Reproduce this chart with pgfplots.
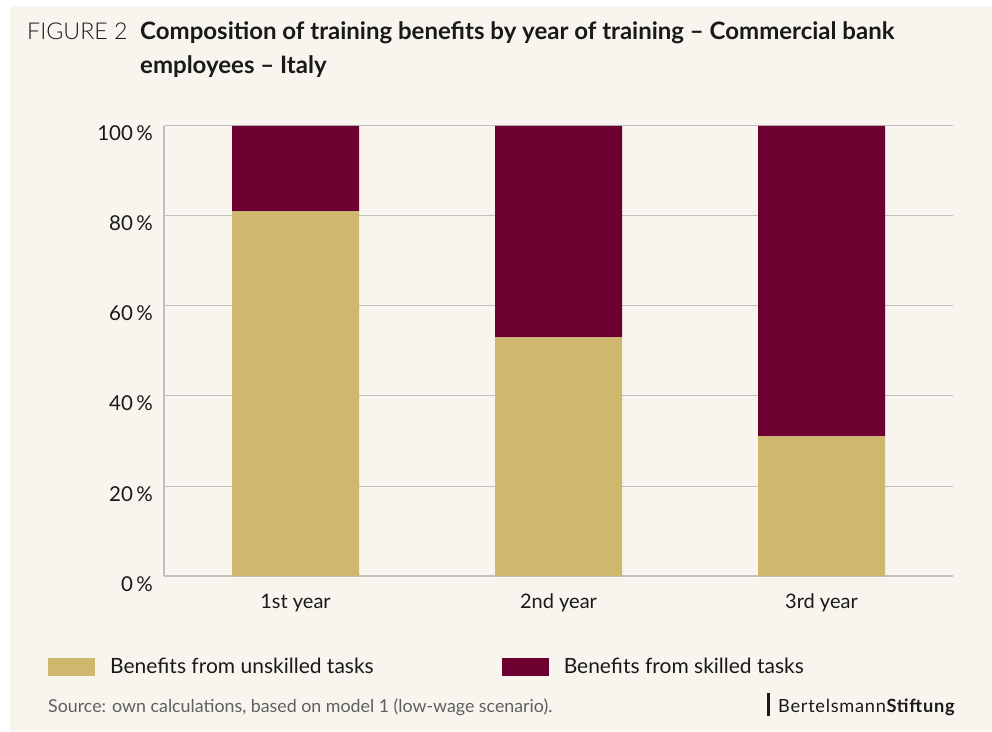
\documentclass[border=0pt]{standalone}
\usepackage{fontspec}
\setmainfont{Lato}
\newfontfamily\latolight{Lato Light}
\usepackage{pgfplots}
\pgfplotsset{compat=1.18}

\definecolor{bgbeige}{RGB}{248,245,238}
\definecolor{tan}{RGB}{205,184,110}
\definecolor{maroon}{RGB}{109,0,48}
\definecolor{gridgray}{RGB}{192,192,192}
\definecolor{txt}{RGB}{25,25,25}
\definecolor{srcgray}{RGB}{95,95,95}

\begin{document}
\begin{tikzpicture}[x=1pt,y=1pt]
% page background: thin white strip top and left, beige panel
\fill[white] (0,0) rectangle (992,731);
\fill[bgbeige] (10,0) rectangle (992,725);

% title
\node[anchor=base west, inner sep=0pt, text=txt, font=\latolight\fontsize{23.2}{26}\selectfont]
    at (27,691) {FIGURE 2};
\node[anchor=base west, inner sep=0pt, text=txt, font=\bfseries\fontsize{24}{28}\selectfont]
    at (140,691) {Composition of training benefits by year of training – Commercial bank};
\node[anchor=base west, inner sep=0pt, text=txt, font=\bfseries\fontsize{24}{28}\selectfont]
    at (140,657) {employees – Italy};

\begin{axis}[
    at={(164pt,155pt)}, anchor=south west,
    scale only axis,
    width=789pt, height=450pt,
    ybar stacked,
    bar width=127pt,
    xmin=0.5, xmax=3.5,
    ymin=0, ymax=100,
    axis x line*=bottom,
    axis y line*=left,
    axis line style={gridgray, line width=1.4pt},
    xtick={1,2,3},
    xticklabels={1st year,2nd year,3rd year},
    x tick style={draw=none},
    extra x ticks={1.5,2.5,3.5},
    extra x tick labels={},
    extra x tick style={major tick length=12pt, tick align=inside,
        tick style={draw=gridgray, line width=1.4pt}},
    ytick={0,20,40,60,80,100},
    yticklabel={\pgfmathprintnumber{\tick}\,\%},
    y tick style={draw=none},
    ymajorgrids=true,
    grid style={gridgray, line width=1pt},
    /pgf/number format/assume math mode=true,
    tick label style={text=txt, inner sep=0pt},
    yticklabel style={font=\fontsize{20.5}{22}\selectfont, anchor=base east, xshift=-11pt, yshift=-15pt},
    xticklabel style={font=\fontsize{20}{22}\selectfont, anchor=base, yshift=-32pt},
    legend columns=2,
    legend style={at={(-0.147,-0.2022)}, anchor=west,
        draw=none, fill=none, inner sep=0pt,
        font=\fontsize{21}{23}\selectfont, text=txt,
        nodes={inner sep=0pt},
        /tikz/every odd column/.append style={column sep=15pt},
        /tikz/every even column/.append style={column sep=128pt}},
]
\addplot[fill=tan, draw=none,
    legend image code/.code={\fill[tan] (0pt,-9pt) rectangle (47pt,9pt);}]
coordinates {(1,81) (2,53) (3,31)};
\addlegendentry{Benefits from unskilled tasks}
\addplot[fill=maroon, draw=none,
    legend image code/.code={\fill[maroon] (0pt,-9pt) rectangle (47pt,9pt);}]
coordinates {(1,19) (2,47) (3,69)};
\addlegendentry{Benefits from skilled tasks}
\end{axis}

% source and logo
\node[anchor=base west, inner sep=0pt, text=srcgray, font=\fontsize{17.8}{19}\selectfont]
    at (48,19) {Source: own calculations, based on model 1 (low-wage scenario).};
\fill[txt] (767,15) rectangle (769.5,38);
\node[anchor=base west, inner sep=0pt, text=txt, font=\fontsize{18.2}{20}\selectfont]
    at (778,19) {\addfontfeatures{LetterSpace=4}Bertelsmann\textbf{Stiftung}};
\end{tikzpicture}
\end{document}
